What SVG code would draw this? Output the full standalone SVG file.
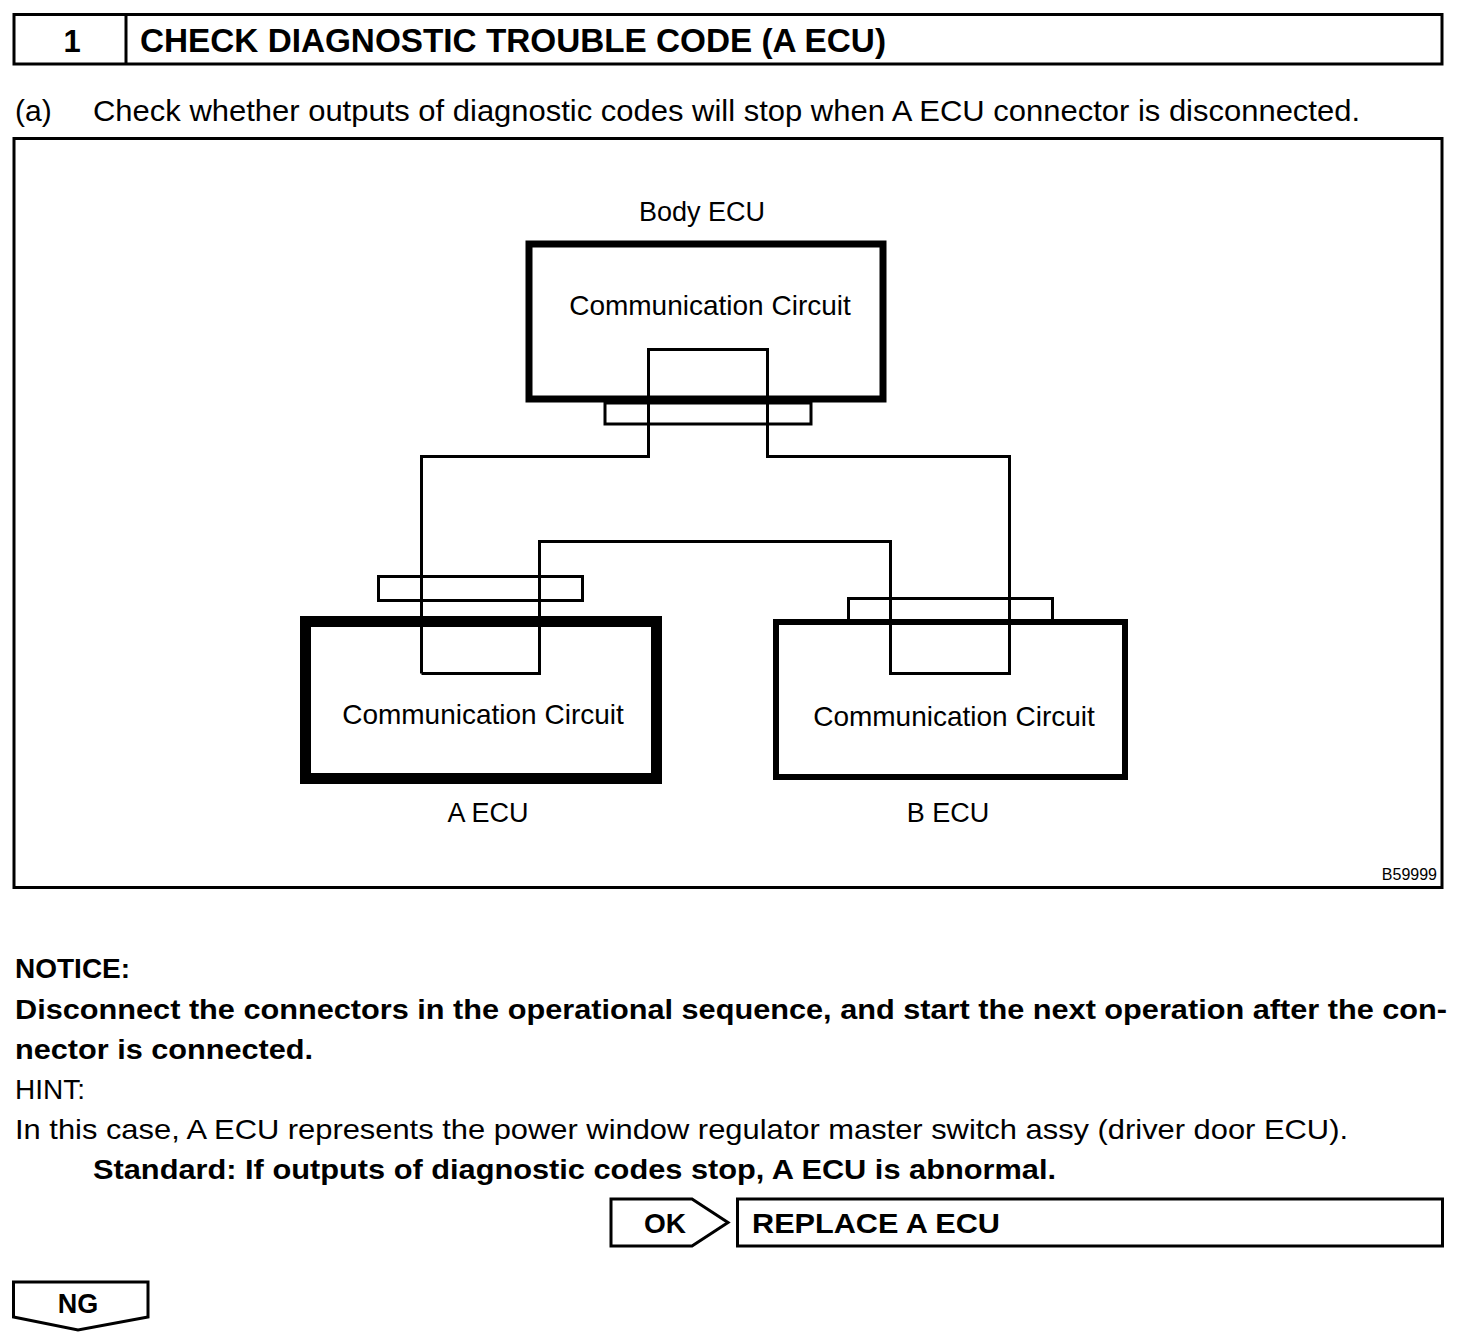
<svg xmlns="http://www.w3.org/2000/svg" width="1472" height="1344" viewBox="0 0 1472 1344">
<style>
.ln{fill:none;stroke:#000;stroke-width:3}
.t{font-family:"Liberation Sans",Arial,sans-serif;fill:#000}
.b{font-weight:bold}
.m{text-anchor:middle}
</style>
<rect width="1472" height="1344" fill="#fff"/>
<g id="header">
<rect class="ln" x="14" y="14.5" width="1428" height="49.5"/>
<line class="ln" x1="126" y1="14" x2="126" y2="64"/>
<text class="t b m" x="72" y="52" font-size="31">1</text>
<text class="t b" x="140" y="52" font-size="33" textLength="746" lengthAdjust="spacingAndGlyphs">CHECK DIAGNOSTIC TROUBLE CODE (A ECU)</text>
</g>
<g id="step-a">
<text class="t" x="15" y="121" font-size="30">(a)</text>
<text class="t" x="93" y="121" font-size="30" textLength="1267" lengthAdjust="spacingAndGlyphs">Check whether outputs of diagnostic codes will stop when A ECU connector is disconnected.</text>
</g>
<g id="frame">
<rect class="ln" x="14" y="138.5" width="1428" height="749"/>
<text class="t" x="1437" y="880" font-size="16" text-anchor="end">B59999</text>
</g>
<g id="body-ecu">
<text class="t m" x="702" y="221" font-size="27">Body ECU</text>
<rect x="529" y="244" width="354" height="155" fill="none" stroke="#000" stroke-width="7"/>
<rect class="ln" x="605" y="403" width="206" height="21"/>
<text class="t m" x="710" y="315" font-size="28">Communication Circuit</text>
</g>
<g id="a-ecu">
<rect class="ln" x="378.5" y="576.5" width="204" height="24"/>
<rect x="305.5" y="621.5" width="351" height="157" fill="none" stroke="#000" stroke-width="11"/>
<text class="t m" x="483" y="724" font-size="28">Communication Circuit</text>
<text class="t m" x="488" y="822" font-size="27">A ECU</text>
</g>
<g id="b-ecu">
<rect class="ln" x="848.5" y="598.5" width="204" height="22"/>
<rect x="776" y="622" width="349" height="155" fill="none" stroke="#000" stroke-width="6"/>
<text class="t m" x="954" y="726" font-size="28">Communication Circuit</text>
<text class="t m" x="948" y="822" font-size="27">B ECU</text>
</g>
<g id="connectors">
<polyline class="ln" points="421.5,673.5 421.5,456.5 648.5,456.5 648.5,349.5 767.5,349.5 767.5,456.5 1009.5,456.5 1009.5,673.5 890.5,673.5 890.5,541.5 539.5,541.5 539.5,673.5 421.5,673.5"/>
</g>
<g id="notes">
<text class="t b" x="15" y="978" font-size="28">NOTICE:</text>
<text class="t b" x="15" y="1019" font-size="28" textLength="1432" lengthAdjust="spacingAndGlyphs">Disconnect the connectors in the operational sequence, and start the next operation after the con-</text>
<text class="t b" x="15" y="1059" font-size="28" textLength="298" lengthAdjust="spacingAndGlyphs">nector is connected.</text>
<text class="t" x="15" y="1099" font-size="28">HINT:</text>
<text class="t" x="15" y="1139" font-size="28" textLength="1333" lengthAdjust="spacingAndGlyphs">In this case, A ECU represents the power window regulator master switch assy (driver door ECU).</text>
<text class="t b" x="93" y="1179" font-size="28" textLength="963" lengthAdjust="spacingAndGlyphs">Standard: If outputs of diagnostic codes stop, A ECU is abnormal.</text>
</g>
<g id="ok">
<polygon class="ln" points="611,1199 692,1199 728,1222.5 692,1246 611,1246"/>
<text class="t b m" x="665" y="1233" font-size="28">OK</text>
</g>
<g id="replace">
<rect class="ln" x="737.5" y="1199" width="705" height="47"/>
<text class="t b" x="752" y="1233" font-size="28" textLength="248" lengthAdjust="spacingAndGlyphs">REPLACE A ECU</text>
</g>
<g id="ng">
<polygon class="ln" points="13.5,1282 148,1282 148,1317 78,1330 13.5,1317"/>
<text class="t b m" x="78" y="1313" font-size="27">NG</text>
</g>
</svg>
